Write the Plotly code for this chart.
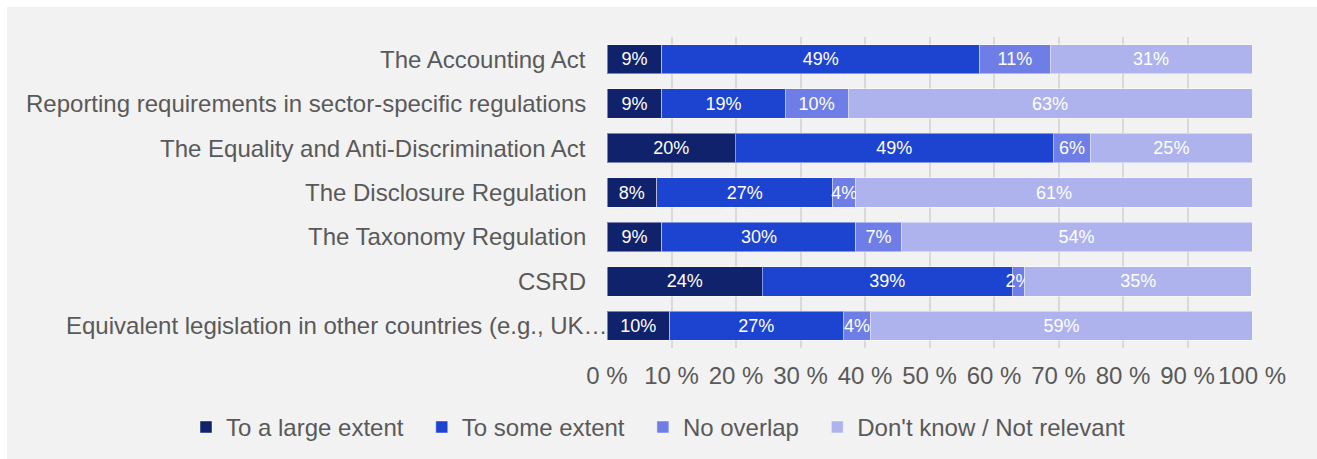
import plotly.graph_objects as go

# Survey categories (top to bottom)
categories = [
    "The Accounting Act",
    "Reporting requirements in sector-specific regulations",
    "The Equality and Anti-Discrimination Act",
    "The Disclosure Regulation",
    "The Taxonomy Regulation",
    "CSRD",
    "Equivalent legislation in other countries (e.g., UK\u2026",
]

# Share of respondents per answer (percent)
large_extent = [8.5, 8.5, 19.9, 7.7, 8.5, 24.1, 9.7]
some_extent = [49.3, 19.1, 49.3, 27.3, 30.1, 38.7, 26.9]
no_overlap = [10.9, 9.8, 5.8, 3.6, 7.0, 2.0, 4.3]
dont_know = [31.3, 62.6, 25.0, 61.4, 54.4, 35.1, 59.1]

series_names = ["To a large extent", "To some extent", "No overlap", "Don't know / Not relevant"]
series_values = [large_extent, some_extent, no_overlap, dont_know]
series_colors = ["#0f226b", "#1d43d1", "#6e7ee6", "#aeb3ed"]

tick_values = list(range(0, 101, 10))
tick_labels = [f"{v} %" for v in tick_values]

FONT = "Liberation Sans, Arial, sans-serif"
TEXT_GREY = "#595959"

# plot-area geometry in pixels (used to place paper-referenced items)
PLOT_L, PLOT_W = 607, 645
PLOT_T, PLOT_H = 37, 310.7


def px_to_paper_x(px):
    return (px - PLOT_L) / PLOT_W


def px_to_paper_y(py):
    return (PLOT_T + PLOT_H - py) / PLOT_H


fig = go.Figure()
for name, vals, color in zip(series_names, series_values, series_colors):
    fig.add_trace(go.Bar(
        name=name + "  ",
        y=categories,
        x=vals,
        orientation="h",
        marker=dict(color=color, line=dict(color="rgba(255,255,255,0.45)", width=1)),
        texttemplate="%{x:.0f}%",
        textposition="inside",
        insidetextanchor="middle",
        textangle=0,
        textfont=dict(color="white", size=18, family=FONT),
        constraintext="none",
        cliponaxis=False,
    ))

# grey panel, leaving a thin white strip on the top and left edges
fig.add_shape(type="rect", xref="paper", yref="paper",
              x0=px_to_paper_x(7), x1=px_to_paper_x(1340),
              y0=px_to_paper_y(480), y1=px_to_paper_y(7),
              fillcolor="#f2f2f2", line=dict(width=0), layer="below")

# category labels, right-aligned just left of the bars
for i, cat in enumerate(categories):
    right_px = 610 if i == len(categories) - 1 else 588
    fig.add_annotation(
        x=px_to_paper_x(right_px), xref="paper", xanchor="right",
        y=cat, yref="y", yanchor="middle",
        text=cat, showarrow=False,
        font=dict(size=24, color=TEXT_GREY, family=FONT),
    )

fig.update_layout(
    barmode="stack",
    bargap=0.34,
    width=1317,
    height=459,
    margin=dict(l=PLOT_L, r=1317 - PLOT_L - PLOT_W, t=PLOT_T, b=459 - PLOT_T - PLOT_H,
                autoexpand=False),
    paper_bgcolor="white",
    plot_bgcolor="rgba(0,0,0,0)",
    font=dict(family=FONT, color=TEXT_GREY, size=24),
    legend=dict(
        orientation="h",
        x=px_to_paper_x(186), xanchor="left",
        y=px_to_paper_y(427), yanchor="middle",
        font=dict(size=24, color=TEXT_GREY),
        bgcolor="rgba(0,0,0,0)",
        traceorder="normal",
        itemwidth=30,
    ),
    xaxis=dict(
        range=[0, 100],
        tickvals=tick_values,
        ticktext=tick_labels,
        showgrid=True,
        gridcolor="#d9d9d9",
        gridwidth=1.5,
        zeroline=False,
        showline=False,
        ticks="",
        ticklabelstandoff=11,
        tickfont=dict(size=24, color=TEXT_GREY),
        fixedrange=True,
    ),
    yaxis=dict(
        categoryorder="array",
        categoryarray=categories,
        autorange="reversed",
        showgrid=False,
        showline=False,
        showticklabels=False,
        ticks="",
        automargin=False,
        fixedrange=True,
    ),
)

fig.write_html("out.html")
